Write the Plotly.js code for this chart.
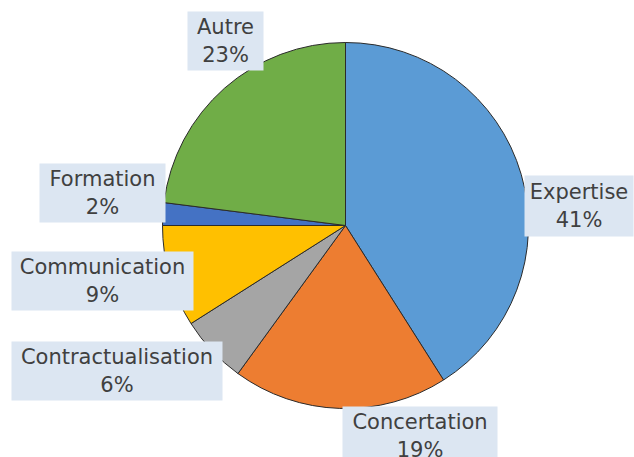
<!DOCTYPE html>
<html>
<head>
<meta charset="utf-8">
<script src="https://cdn.plot.ly/plotly-3.0.1.min.js"></script>
<style>html,body{margin:0;padding:0;background:#fff;}#chart{width:634px;height:457px;}</style>
</head>
<body>
<div id="chart"></div>
<script>
const categories = ["Expertise", "Concertation", "Contractualisation", "Communication", "Formation", "Autre"];
const values = [41, 19, 6, 9, 2, 23];
const colors = ["#5b9bd5", "#ed7d31", "#a5a5a5", "#ffc000", "#4472c4", "#70ad47"];
// label boxes: centre x, centre y (pixels from top-left), width, height
const labelBoxes = [[579, 206, 108, 60], [420, 436, 154, 58], [117, 371, 210, 58], [102, 281, 181, 58], [102, 193, 125, 58], [225, 41, 75, 58]];

const W = 634, H = 457;
const cx = 345.5, cy = 225.5, r = 183;

const trace = {
  type: "pie",
  values: values,
  labels: categories,
  sort: false,
  direction: "clockwise",
  rotation: 0,
  textinfo: "none",
  hoverinfo: "label+percent",
  marker: {colors: colors, line: {color: "#2b2b2b", width: 1}},
  domain: {x: [(cx - r) / W, (cx + r) / W], y: [(H - cy - r) / H, (H - cy + r) / H]}
};

const annotations = categories.map((c, i) => ({
  xref: "paper", yref: "paper",
  x: labelBoxes[i][0] / W, y: 1 - labelBoxes[i][1] / H,
  xanchor: "center", yanchor: "middle",
  width: labelBoxes[i][2], height: labelBoxes[i][3],
  text: c + "<br>" + values[i] + "%",
  showarrow: false,
  align: "center", valign: "middle",
  bgcolor: "#dce6f2",
  borderpad: 0,
  font: {family: "DejaVu Sans, Verdana, sans-serif", size: 21, color: "#404040"}
}));

Plotly.newPlot("chart", [trace], {
  width: W, height: H,
  margin: {l: 0, r: 0, t: 0, b: 0},
  showlegend: false,
  paper_bgcolor: "#ffffff",
  annotations: annotations
}, {displayModeBar: false, staticPlot: true});
</script>
</body>
</html>
